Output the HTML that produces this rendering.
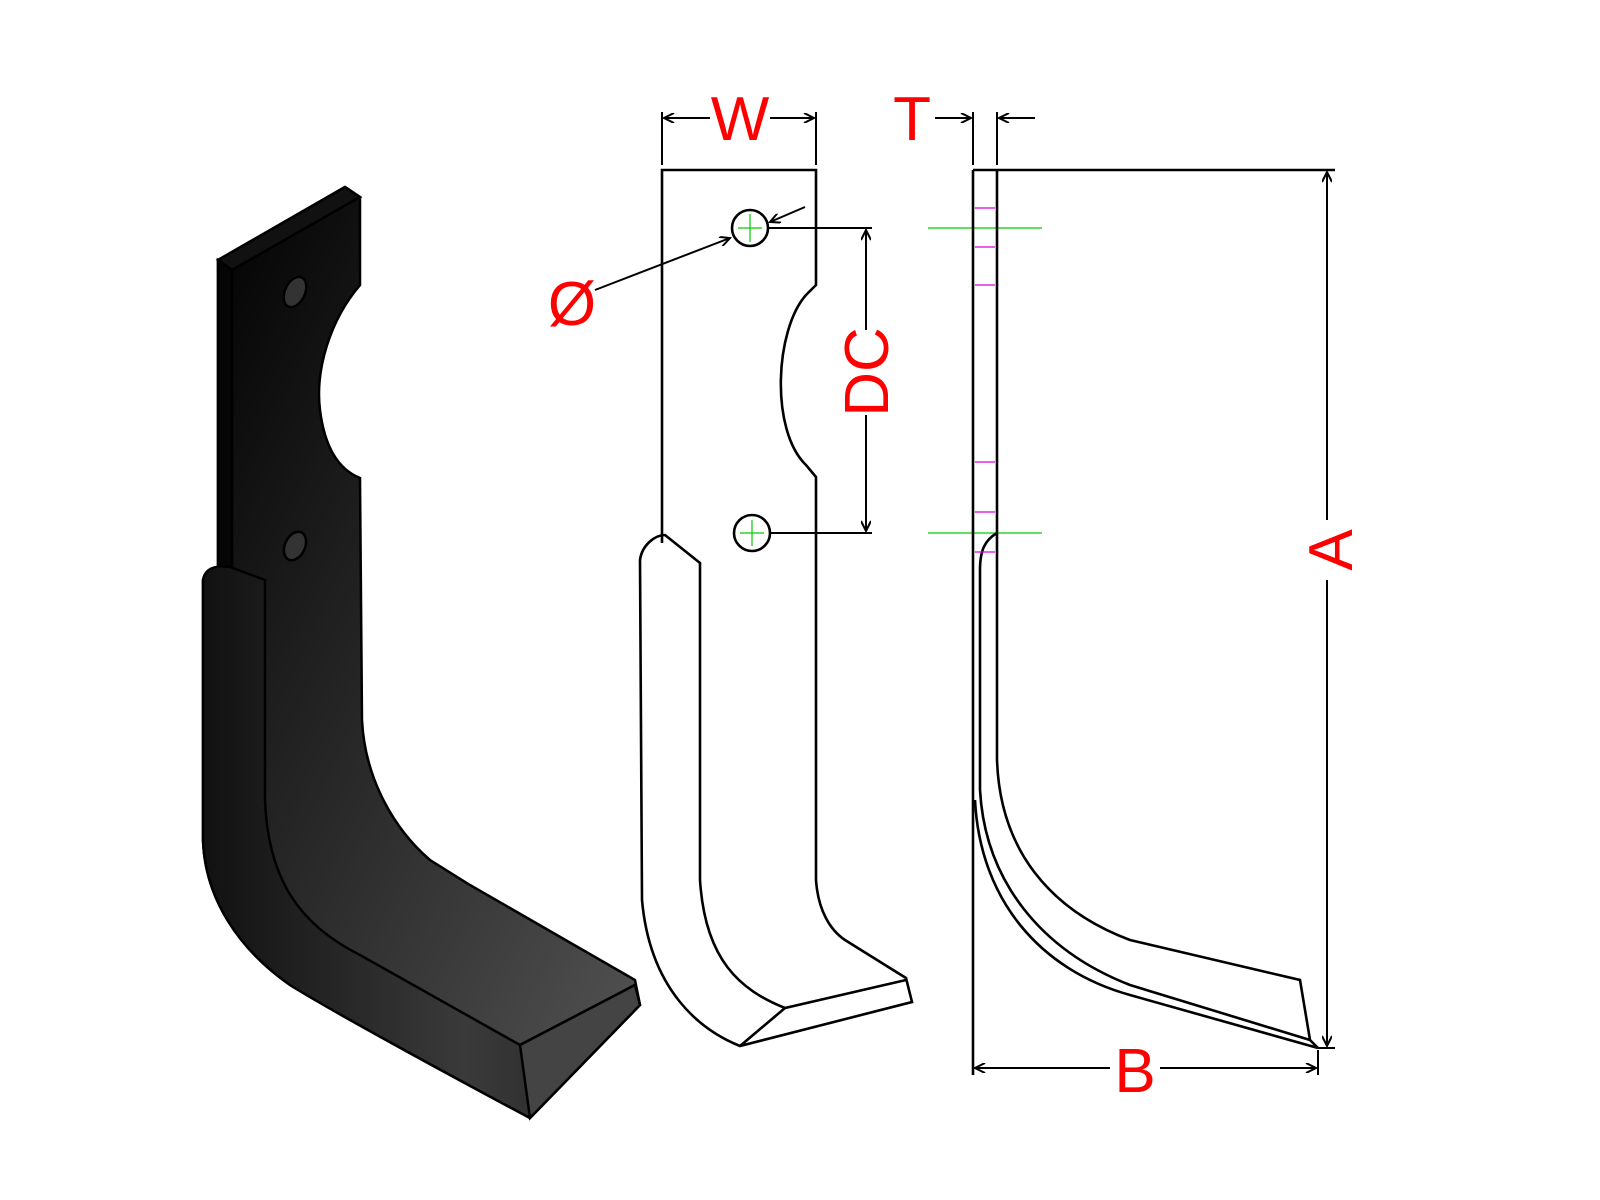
<!DOCTYPE html>
<html><head><meta charset="utf-8"><style>
html,body{margin:0;padding:0;background:#fff;}
svg{display:block;}
text{font-family:"Liberation Sans",sans-serif;fill:#f00;}
</style></head><body>
<svg width="1600" height="1200" viewBox="0 0 1600 1200" xmlns="http://www.w3.org/2000/svg">
<defs>
<linearGradient id="g1" x1="0" y1="0" x2="1" y2="1">
<stop offset="0" stop-color="#000"/><stop offset="0.5" stop-color="#2a2a2a"/><stop offset="1" stop-color="#555"/>
</linearGradient>
<linearGradient id="g2" x1="0" y1="0" x2="1" y2="0">
<stop offset="0" stop-color="#111"/><stop offset="0.6" stop-color="#3a3a3a"/><stop offset="1" stop-color="#222"/>
</linearGradient>
<marker id="ar" viewBox="0 0 10 10" refX="10" refY="5" markerWidth="14" markerHeight="10" orient="auto-start-reverse" markerUnits="userSpaceOnUse">
<path d="M0,0 L10,5 L0,10" fill="none" stroke="#000" stroke-width="2"/>
</marker>
</defs>

<g stroke="#000" stroke-width="2.5">
<path d="M218,260 L345,187 L360,197 L360,285 C330,320 315,370 320,410 C325,450 340,470 360,478 L362,720 C365,780 395,830 430,860 L470,885 L635,980 L640,1005 L530,1118 C440,1070 330,1010 290,985 C240,950 205,900 203,840 L203,580 L218,567 Z" fill="url(#g1)"/>
<path d="M218,260 L345,187 L360,197 L232,270 Z" fill="#111"/>
<path d="M218,260 L232,270 L232,567 L218,567 Z" fill="#050505"/>
<path d="M203,580 C205,568 215,565 230,567 L265,580 L265,800 C268,880 300,925 360,955 L520,1045 L635,985 L640,1005 L530,1118 C440,1070 330,1010 290,985 C240,950 205,900 203,840 Z" fill="url(#g2)"/>
<path d="M520,1045 L530,1118 L640,1005 L635,985 Z" fill="#444"/>
<ellipse cx="295" cy="292" rx="10" ry="16" transform="rotate(25 295 292)" fill="#333"/>
<ellipse cx="295" cy="546" rx="10" ry="15" transform="rotate(25 295 546)" fill="#333"/>
</g>

<g fill="none" stroke="#000" stroke-width="2.6">
<path d="M662,543 L662,170 L816,170 L816,285 L806,295 C775,330 770,430 806,465 L816,477 L816,880 C818,910 830,930 845,940 L906,978 L912,1002 L740,1046 C700,1030 650,990 642,900 L640,560 C642,545 655,535 665,535 L700,563 L700,880 C705,960 740,990 785,1008 L906,980"/>
<path d="M785,1008 L740,1046"/>
<circle cx="750" cy="228" r="18"/>
<circle cx="752" cy="533" r="18"/>
</g>
<g stroke="#0c0" stroke-width="1.2">
<line x1="738" y1="228" x2="762" y2="228"/><line x1="750" y1="214" x2="750" y2="242"/>
<line x1="740" y1="533" x2="764" y2="533"/><line x1="752" y1="520" x2="752" y2="546"/>
<line x1="928" y1="228" x2="1042" y2="228"/><line x1="928" y1="533" x2="1042" y2="533"/>
</g>

<g fill="none" stroke="#000" stroke-width="2.6">
<line x1="973" y1="170" x2="973" y2="1075"/>
<line x1="973" y1="170" x2="1335" y2="170"/>
<path d="M997,170 L997,760 C1000,850 1050,910 1130,940 L1300,980 L1310,1040 L1318,1048"/>
<path d="M997,533 C985,540 980,550 980,570 L980,790 C985,880 1040,950 1130,985 L1310,1040"/>
<path d="M975,800 C980,900 1040,970 1130,995 L1318,1048"/>
</g>
<g stroke="#d0d" stroke-width="1.2">
<line x1="975" y1="208" x2="995" y2="208"/><line x1="975" y1="247" x2="995" y2="247"/>
<line x1="975" y1="285" x2="995" y2="285"/><line x1="975" y1="462" x2="995" y2="462"/>
<line x1="975" y1="512" x2="995" y2="512"/><line x1="975" y1="552" x2="995" y2="552"/>
</g>

<g fill="none" stroke="#000" stroke-width="2">
<line x1="662" y1="112" x2="662" y2="165"/><line x1="816" y1="112" x2="816" y2="165"/>
<line x1="664" y1="118" x2="710" y2="118" marker-start="url(#ar)"/>
<line x1="770" y1="118" x2="814" y2="118" marker-end="url(#ar)"/>
<line x1="973" y1="112" x2="973" y2="165"/><line x1="997" y1="112" x2="997" y2="165"/>
<line x1="935" y1="118" x2="971" y2="118" marker-end="url(#ar)"/>
<line x1="1035" y1="118" x2="999" y2="118" marker-end="url(#ar)"/>
<line x1="768" y1="228" x2="872" y2="228"/><line x1="770" y1="533" x2="872" y2="533"/>
<line x1="866" y1="230" x2="866" y2="330" marker-start="url(#ar)"/>
<line x1="866" y1="415" x2="866" y2="531" marker-end="url(#ar)"/>
<line x1="595" y1="290" x2="730" y2="238" marker-end="url(#ar)"/>
<line x1="805" y1="207" x2="770" y2="222" marker-end="url(#ar)"/>
<line x1="1318" y1="1048" x2="1335" y2="1048"/>
<line x1="1327" y1="172" x2="1327" y2="520" marker-start="url(#ar)"/>
<line x1="1327" y1="580" x2="1327" y2="1046" marker-end="url(#ar)"/>
<line x1="1318" y1="1050" x2="1318" y2="1075"/>
<line x1="975" y1="1068" x2="1110" y2="1068" marker-start="url(#ar)"/>
<line x1="1160" y1="1068" x2="1316" y2="1068" marker-end="url(#ar)"/>
</g>

<text x="740" y="140" font-size="62" text-anchor="middle">W</text>
<text x="912" y="140" font-size="62" text-anchor="middle">T</text>
<text x="572" y="325" font-size="62" text-anchor="middle">Ø</text>
<text x="0" y="0" font-size="62" text-anchor="middle" transform="translate(888,372) rotate(-90)">DC</text>
<text x="0" y="0" font-size="62" text-anchor="middle" transform="translate(1352,550) rotate(-90)">A</text>
<text x="1135" y="1092" font-size="62" text-anchor="middle">B</text>
</svg>
</body></html>
